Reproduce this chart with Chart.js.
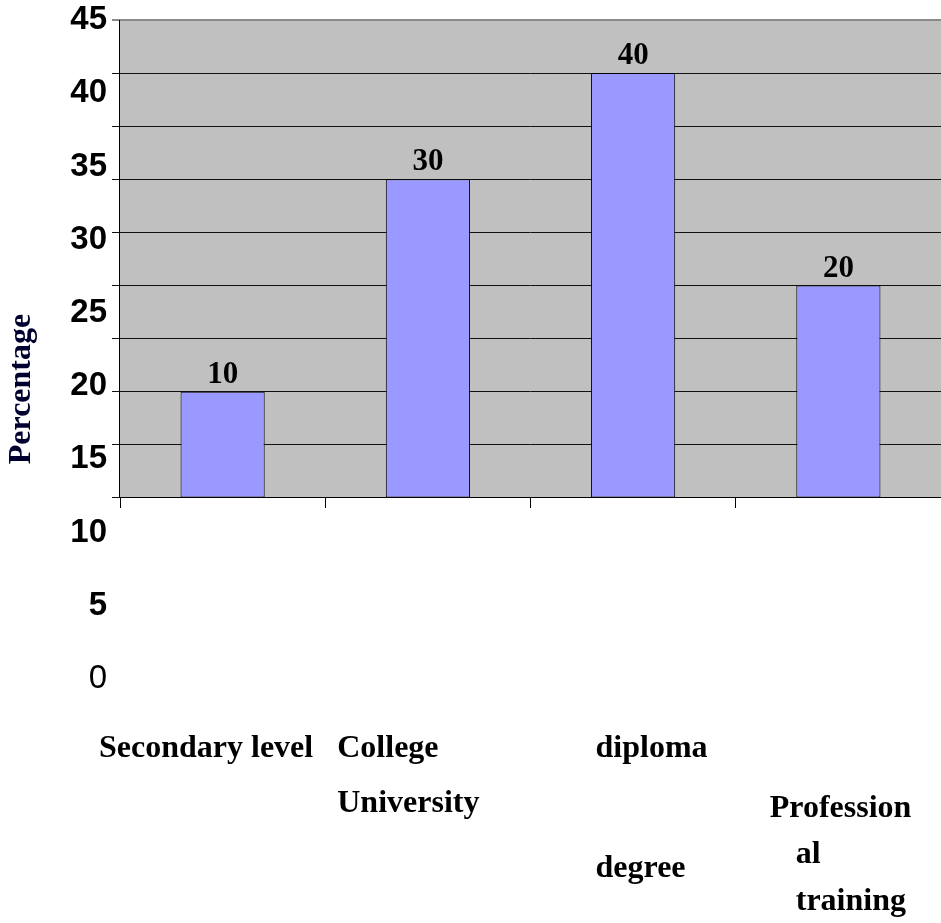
<!DOCTYPE html>
<html>
<head>
<meta charset="utf-8">
<title>Percentage by level of education</title>
<script src="https://cdn.jsdelivr.net/npm/chart.js@4/dist/chart.umd.min.js"></script>
<style>
  html, body { margin: 0; padding: 0; background: #ffffff; }
  #wrap { width: 941px; height: 923px; }
</style>
</head>
<body>
<div id="wrap"><canvas id="chart" width="941" height="923"></canvas></div>
<script>
// Education levels and the share of respondents at each level
const categories = ['Secondary level', 'College University', 'diploma degree', 'Professional training'];
const categoryLines = [
  ['Secondary level'],
  ['College', 'University'],
  ['diploma', 'degree'],
  ['Profession', 'al', 'training']
];
const percentages = [10, 30, 40, 20];
const tickValues = [0, 5, 10, 15, 20, 25, 30, 35, 40, 45];
const axisTitle = 'Percentage';

const SERIF = '"Liberation Serif", "Times New Roman", serif';
const SANS = '"Liberation Sans", Arial, sans-serif';

// Where each line of a category caption sits, measured from the category's
// left edge (dx) and from the zero line (dy, baseline).
const captionPlacement = [
  [{ dx: -21, dy: 259 }],
  [{ dx: 12, dy: 259 }, { dx: 12, dy: 314 }],
  [{ dx: 65, dy: 259 }, { dx: 65, dy: 379 }],
  [{ dx: 34, dy: 319 }, { dx: 60, dy: 365 }, { dx: 60, dy: 412 }]
];

const keepTicks = scale => {
  scale.ticks = tickValues.map(v => ({ value: v }));
};

// Grey plot panel behind the grid, spanning 0..45 of the bar scale
const panelPlugin = {
  id: 'panel',
  beforeDraw(chart) {
    const { ctx, chartArea, scales } = chart;
    const top = scales.y.getPixelForValue(tickValues[tickValues.length - 1]);
    const bottom = scales.y.getPixelForValue(0);
    ctx.save();
    ctx.fillStyle = '#c0c0c0';
    ctx.fillRect(chartArea.left, top, chartArea.right - chartArea.left, bottom - top);
    ctx.restore();
  },
  beforeDatasetsDraw(chart) {
    const { ctx, chartArea, scales } = chart;
    const top = scales.y.getPixelForValue(tickValues[tickValues.length - 1]);
    const bottom = scales.y.getPixelForValue(0);
    const x = Math.round(chartArea.left) - 0.5;
    ctx.save();
    ctx.strokeStyle = '#000000';
    ctx.lineWidth = 1;
    ctx.beginPath();
    ctx.moveTo(x, top);
    ctx.lineTo(x, bottom);
    ctx.stroke();
    ctx.restore();
  }
};

// Value printed above each bar
const valueLabelPlugin = {
  id: 'valueLabels',
  afterDatasetsDraw(chart) {
    const { ctx } = chart;
    const meta = chart.getDatasetMeta(0);
    const data = chart.data.datasets[0].data;
    ctx.save();
    ctx.font = 'bold 31px ' + SERIF;
    ctx.fillStyle = '#000000';
    ctx.textAlign = 'center';
    ctx.textBaseline = 'alphabetic';
    meta.data.forEach((bar, i) => {
      ctx.fillText(String(data[i]), bar.x, bar.y - 9);
    });
    ctx.restore();
  }
};

// Category captions written under the chart
const captionPlugin = {
  id: 'captions',
  afterDraw(chart) {
    const { ctx, scales } = chart;
    const x = scales.x;
    const zero = scales.y.getPixelForValue(0);
    const half = (x.getPixelForValue(1) - x.getPixelForValue(0)) / 2;
    ctx.save();
    ctx.font = 'bold 32px ' + SERIF;
    ctx.fillStyle = '#000000';
    ctx.textAlign = 'left';
    ctx.textBaseline = 'alphabetic';
    categoryLines.forEach((lines, i) => {
      const left = x.getPixelForValue(i) - half;
      lines.forEach((line, j) => {
        const p = captionPlacement[i][j];
        ctx.fillText(line, left + p.dx, zero + p.dy);
      });
    });
    ctx.restore();
  }
};

new Chart(document.getElementById('chart'), {
  type: 'bar',
  data: {
    labels: categories,
    datasets: [{
      data: percentages,
      backgroundColor: '#9999ff',
      borderColor: '#000000',
      borderWidth: 1,
      borderSkipped: false,
      barPercentage: 0.41,
      categoryPercentage: 1
    }]
  },
  options: {
    responsive: false,
    animation: false,
    devicePixelRatio: 1,
    layout: { padding: { top: 20, right: 0, bottom: 165, left: 0 } },
    plugins: {
      legend: { display: false },
      tooltip: { enabled: false }
    },
    scales: {
      x: {
        type: 'category',
        position: { y: 0 },
        offset: true,
        ticks: { display: false },
        grid: {
          offset: true,
          drawOnChartArea: false,
          drawTicks: true,
          tickLength: 10,
          color: '#000000',
          lineWidth: 1
        },
        border: { display: true, color: '#000000', width: 1 }
      },
      // bar scale: 0..45 occupies the grey panel
      y: {
        type: 'linear',
        position: 'left',
        weight: 0,
        min: -24.48,
        max: 45,
        afterBuildTicks: keepTicks,
        afterFit(scale) {
          scale.width = 8;
          scale.paddingTop = 0;
          scale.paddingBottom = 0;
        },
        ticks: { display: false },
        grid: {
          drawTicks: true,
          tickLength: 8,
          color: ctx => (ctx.tick && ctx.tick.value === 45 ? '#8a8a8a' : '#111111'),
          lineWidth: ctx => (ctx.tick && ctx.tick.value === 45 ? 2 : 1)
        },
        border: { display: false }
      },
      // scale carrying the printed tick numbers and the axis title
      yl: {
        type: 'linear',
        position: 'left',
        weight: 1,
        min: -5.39,
        max: 45,
        afterBuildTicks: keepTicks,
        afterFit(scale) {
          scale.width = 112;
          scale.paddingTop = 0;
          scale.paddingBottom = 0;
        },
        ticks: {
          padding: 5,
          color: '#000000',
          font: ctx => ({
            family: SANS,
            size: 33,
            lineHeight: 1,
            weight: ctx.tick && ctx.tick.value === 0 ? 'normal' : 'bold'
          })
        },
        grid: { display: false, drawTicks: false },
        border: { display: false },
        title: {
          display: true,
          text: axisTitle,
          color: '#00002e',
          font: { family: SERIF, size: 32, weight: 'bold', lineHeight: 1.2 },
          padding: { top: 3, bottom: 0 }
        }
      }
    }
  },
  plugins: [panelPlugin, valueLabelPlugin, captionPlugin]
});
</script>
</body>
</html>
